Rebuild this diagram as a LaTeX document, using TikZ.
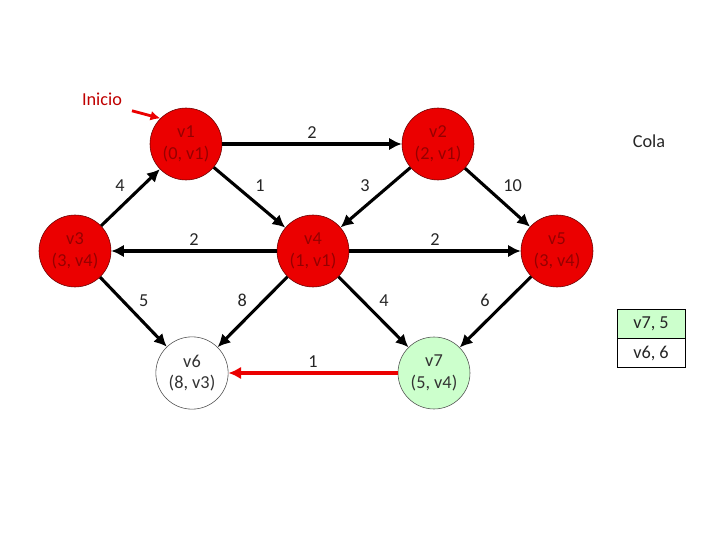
\documentclass[tikz,border=0pt]{standalone}
\usepackage{fontspec}
\setmainfont{Carlito}
\usepackage{xcolor}
\usetikzlibrary{arrows.meta,positioning}
\definecolor{rojo}{RGB}{235,0,0}
\definecolor{verde}{RGB}{204,255,204}
\definecolor{texto}{RGB}{150,0,0}
\tikzset{
    % Estilo de los vertices ya visitados
    visitado/.style={
        circle,
        fill=rojo,
        draw=red!40!black,
        thin,
        minimum size=1.8cm,
        align=center,
        text=texto,
        font=\fontsize{13}{15.5}\selectfont
    },
    % Vertice en la cola / vertice sin visitar
    encola/.style={visitado, fill=verde, draw=black!70, text=black!80},
    libre/.style={visitado, fill=white, draw=black!70, text=black!80},
    % Aristas con su peso
    arista/.style={line width=2.2pt, -{Latex[length=9pt,width=9pt]}},
    peso/.style={font=\fontsize{13}{15.5}\selectfont, text=black!85, inner sep=3pt},
    % Celdas de la cola
    celda/.style={
        draw=black,
        thin,
        minimum width=1.7cm,
        minimum height=0.725cm,
        font=\fontsize{13}{15.5}\selectfont,
        text=black!85
    }
}
\begin{document}
\begin{tikzpicture}
        \useasboundingbox (0,0) rectangle (18,13.5);

        % --- 1. Vertices del grafo ---
        \node[visitado] (v1) at (4.65, 9.9)    {v1\\(0, v1)};
        \node[visitado] (v2) at (10.95, 9.9)   {v2\\(2, v1)};
        \node[visitado] (v3) at (1.875, 7.225) {v3\\(3, v4)};
        \node[visitado] (v4) at (7.825, 7.225) {v4\\(1, v1)};
        \node[visitado] (v5) at (13.925, 7.225) {v5\\(3, v4)};
        \node[libre]    (v6) at (4.8, 4.175)   {v6\\(8, v3)};
        \node[encola]   (v7) at (10.85, 4.175) {v7\\(5, v4)};

        % --- 2. Aristas ---
        \draw[arista] (v1) -- node[peso, above] {2} (v2);
        \draw[arista] (v3) -- node[peso, above left] {4} (v1);
        \draw[arista] (v1) -- node[peso, above right] {1} (v4);
        \draw[arista] (v2) -- node[peso, above left] {3} (v4);
        \draw[arista] (v2) -- node[peso, above right] {10} (v5);
        \draw[arista] (v4) -- node[peso, above] {2} (v3);
        \draw[arista] (v4) -- node[peso, above] {2} (v5);
        \draw[arista] (v3) -- node[peso, above right] {5} (v6);
        \draw[arista] (v4) -- node[peso, above left] {8} (v6);
        \draw[arista] (v4) -- node[peso, above right] {4} (v7);
        \draw[arista] (v5) -- node[peso, above left] {6} (v7);
        \draw[arista, draw=rojo] (v7) -- node[peso, above] {1} (v6);

        % --- 3. Inicio y cola ---
        \node[font=\fontsize{13}{15.5}\selectfont, text=red!75!black] (inicio) at (2.55, 11.025) {Inicio};
        \coordinate (flecha) at (3.3, 10.73);
        \draw[rojo, line width=2pt, -{Latex[length=7pt,width=7pt]}] (flecha) -- (v1.135);

        \node[peso] (cola) at (16.225, 9.975) {Cola};
        \node[celda, fill=verde] (c1) at (16.275, 5.4125) {v7, 5};
        \node[celda, fill=white, below=0pt of c1.south, anchor=north] (c2) {v6, 6};
    \end{tikzpicture}
\end{document}
